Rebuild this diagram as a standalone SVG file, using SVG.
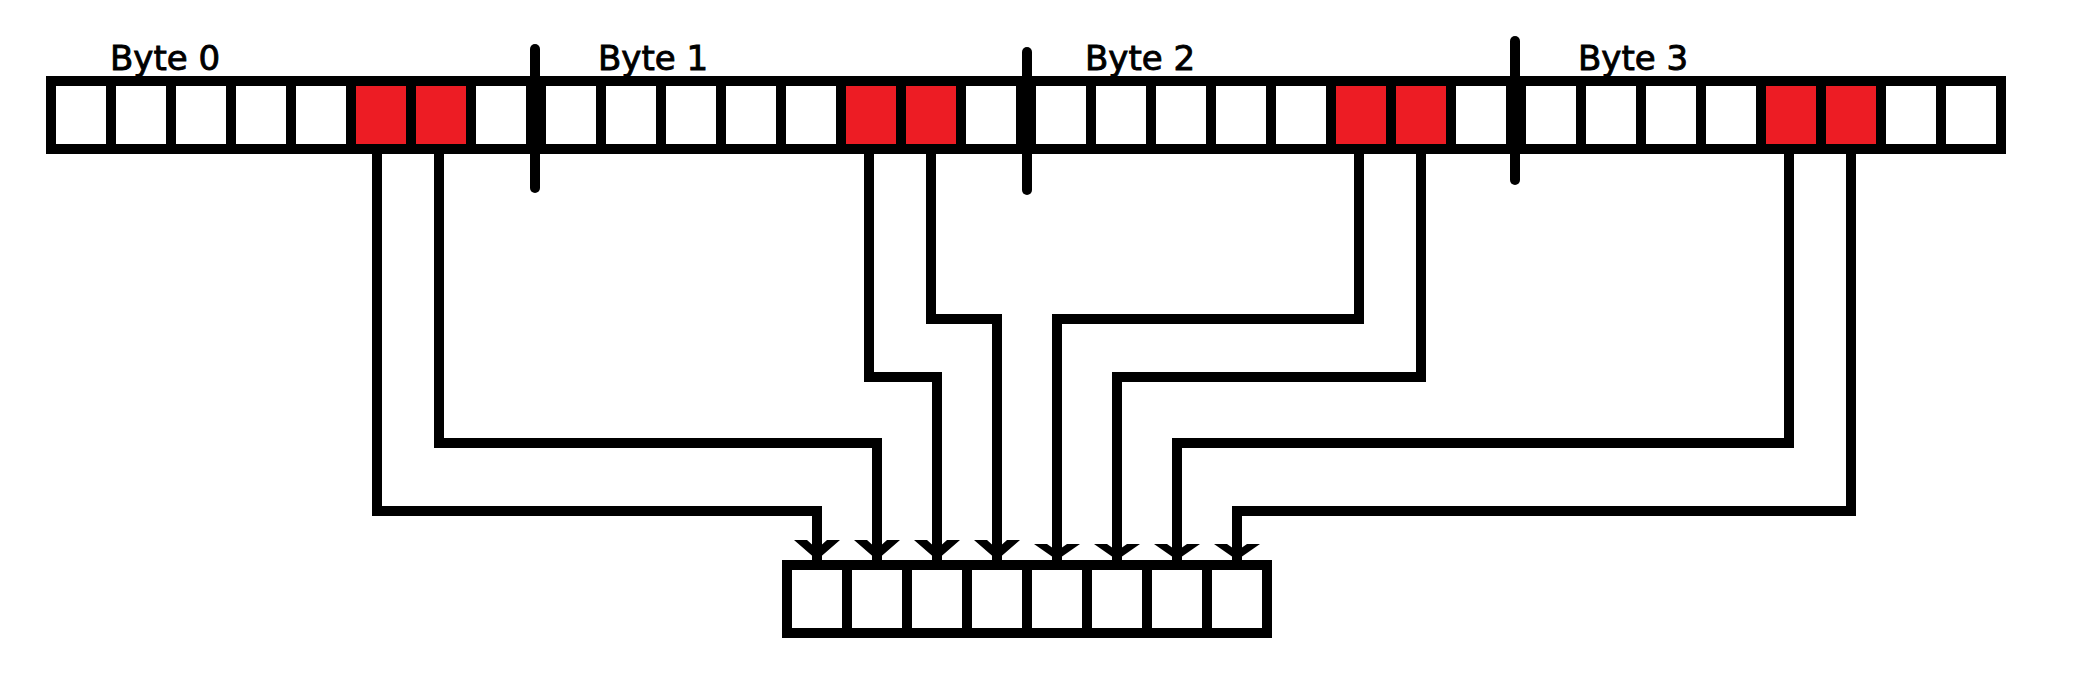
<svg xmlns="http://www.w3.org/2000/svg" width="2090" height="682" viewBox="0 0 2090 682">
  <style>
    .frame { fill: #000000; }
    .cell { fill: #ffffff; }
    .hit { fill: #ED1C24; }
    .label { font-family: "DejaVu Sans", Verdana, sans-serif; font-size: 34px; fill: #000000; stroke: #000000; stroke-width: 0.9; }
    .tick { stroke: #000000; stroke-width: 10; stroke-linecap: round; fill: none; }
    .wire { stroke: #000000; stroke-width: 10; fill: none; stroke-linejoin: miter; stroke-linecap: butt; }
    .head { fill: #000000; }
  </style>
  <defs>
    <polygon id="headA" class="head" points="-23,540 -10,540 0,549 10,540 23,540 0,560"/>
    <polygon id="headB" class="head" points="-23,544 -10,544 0,551 10,544 23,544 0,560"/>
  </defs>
  <rect width="2090" height="682" fill="#ffffff"/>

  <g id="input-register">
    <rect class="frame" x="46" y="76" width="1960" height="78"/>
    <g id="byte0">
      <text class="label" x="110" y="70">Byte 0</text>
      <rect class="cell" x="56" y="86" width="50" height="58"/>
      <rect class="cell" x="116" y="86" width="50" height="58"/>
      <rect class="cell" x="176" y="86" width="50" height="58"/>
      <rect class="cell" x="236" y="86" width="50" height="58"/>
      <rect class="cell" x="296" y="86" width="50" height="58"/>
      <rect class="hit" x="356" y="86" width="50" height="58"/>
      <rect class="hit" x="416" y="86" width="50" height="58"/>
      <rect class="cell" x="476" y="86" width="50" height="58"/>
    </g>
    <g id="byte1">
      <text class="label" x="598" y="70">Byte 1</text>
      <rect class="cell" x="546" y="86" width="50" height="58"/>
      <rect class="cell" x="606" y="86" width="50" height="58"/>
      <rect class="cell" x="666" y="86" width="50" height="58"/>
      <rect class="cell" x="726" y="86" width="50" height="58"/>
      <rect class="cell" x="786" y="86" width="50" height="58"/>
      <rect class="hit" x="846" y="86" width="50" height="58"/>
      <rect class="hit" x="906" y="86" width="50" height="58"/>
      <rect class="cell" x="966" y="86" width="50" height="58"/>
    </g>
    <g id="byte2">
      <text class="label" x="1085" y="70">Byte 2</text>
      <rect class="cell" x="1036" y="86" width="50" height="58"/>
      <rect class="cell" x="1096" y="86" width="50" height="58"/>
      <rect class="cell" x="1156" y="86" width="50" height="58"/>
      <rect class="cell" x="1216" y="86" width="50" height="58"/>
      <rect class="cell" x="1276" y="86" width="50" height="58"/>
      <rect class="hit" x="1336" y="86" width="50" height="58"/>
      <rect class="hit" x="1396" y="86" width="50" height="58"/>
      <rect class="cell" x="1456" y="86" width="50" height="58"/>
    </g>
    <g id="byte3">
      <text class="label" x="1578" y="70">Byte 3</text>
      <rect class="cell" x="1526" y="86" width="50" height="58"/>
      <rect class="cell" x="1586" y="86" width="50" height="58"/>
      <rect class="cell" x="1646" y="86" width="50" height="58"/>
      <rect class="cell" x="1706" y="86" width="50" height="58"/>
      <rect class="hit" x="1766" y="86" width="50" height="58"/>
      <rect class="hit" x="1826" y="86" width="50" height="58"/>
      <rect class="cell" x="1886" y="86" width="50" height="58"/>
      <rect class="cell" x="1946" y="86" width="50" height="58"/>
    </g>
    <g id="byte-separators">
      <line class="tick" x1="535" y1="49" x2="535" y2="188"/>
      <line class="tick" x1="1027" y1="52" x2="1027" y2="190"/>
      <line class="tick" x1="1515" y1="41" x2="1515" y2="180"/>
    </g>
  </g>

  <g id="output-register">
    <rect class="frame" x="782" y="560" width="490" height="78"/>
    <rect class="cell" x="792" y="570" width="50" height="58"/>
    <rect class="cell" x="852" y="570" width="50" height="58"/>
    <rect class="cell" x="912" y="570" width="50" height="58"/>
    <rect class="cell" x="972" y="570" width="50" height="58"/>
    <rect class="cell" x="1032" y="570" width="50" height="58"/>
    <rect class="cell" x="1092" y="570" width="50" height="58"/>
    <rect class="cell" x="1152" y="570" width="50" height="58"/>
    <rect class="cell" x="1212" y="570" width="50" height="58"/>
  </g>

  <g id="connectors">
    <path class="wire" d="M377,154 V511 H817 V560"/>
    <path class="wire" d="M439,154 V443 H877 V560"/>
    <path class="wire" d="M869,154 V377 H937 V560"/>
    <path class="wire" d="M931,154 V319 H997 V560"/>
    <path class="wire" d="M1359,154 V319 H1057 V560"/>
    <path class="wire" d="M1421,154 V377 H1117 V560"/>
    <path class="wire" d="M1789,154 V443 H1177 V560"/>
    <path class="wire" d="M1851,154 V511 H1237 V560"/>
    <use href="#headA" x="817"/>
    <use href="#headA" x="877"/>
    <use href="#headA" x="937"/>
    <use href="#headA" x="997"/>
    <use href="#headB" x="1057"/>
    <use href="#headB" x="1117"/>
    <use href="#headB" x="1177"/>
    <use href="#headB" x="1237"/>
  </g>
</svg>
